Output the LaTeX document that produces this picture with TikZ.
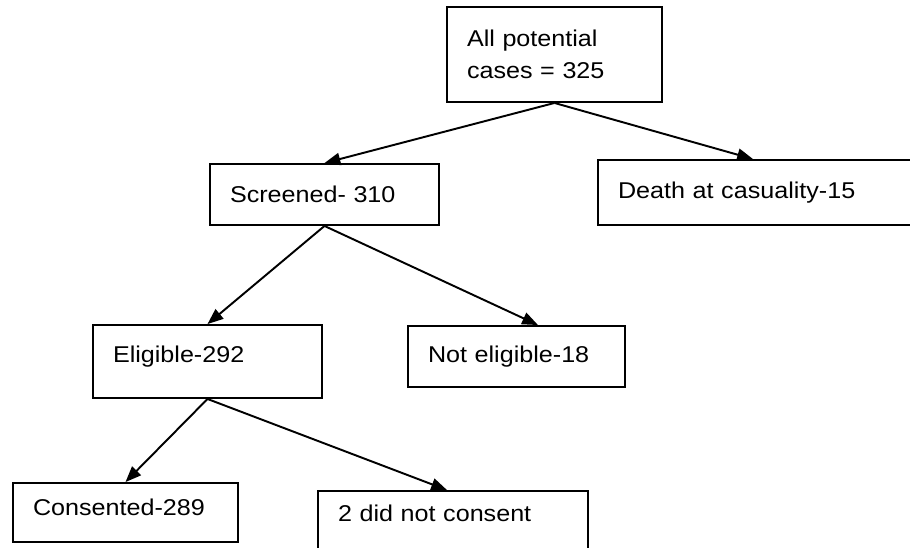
\documentclass[tikz,border=0pt]{standalone}
\usepackage{fontspec}
\setmainfont[FakeStretch=1.1]{Liberation Sans}
\usepackage{xcolor}
\usepackage{tikz}
\usetikzlibrary{calc,arrows.meta,positioning}
\definecolor{ink}{HTML}{000000}
\tikzset{
  box/.style={draw=ink, line width=1.1pt, rectangle, align=left, inner xsep=0.4cm,
    font=\fontsize{13}{18}\selectfont, text=ink},
  flow/.style={draw=ink, line width=1.1pt, -{Triangle[length=9pt,width=7pt]}},
}
\begin{document}
\begin{tikzpicture}[x=0.02cm, y=-0.02cm]
\useasboundingbox (0,0) rectangle (910,548);
\clip (0,0) rectangle (910,548);

% boxes
\node[box, text width=3.5cm, minimum height=1.9cm] (all) at (554.5,54.5) {All potential\\cases = 325};
\node[box, text width=3.78cm, minimum height=1.22cm] (scr) at (324.5,194.5) {Screened- 310};
\node[box, text width=5.84cm, minimum height=1.30cm] (death) at (764,192.5) {Death at casuality-15};
\node[box, text width=3.78cm, minimum height=1.46cm, text depth=0.3cm] (eli) at (207.5,361.5) {Eligible-292};
\node[box, text width=3.54cm, minimum height=1.22cm] (noteli) at (516.5,356.5) {Not eligible-18};
\node[box, text width=3.70cm, minimum height=1.18cm, text depth=0.2cm] (cons) at (125.5,512.5) {Consented-289};
\node[box, text width=4.60cm, minimum height=1.58cm, text depth=0.7cm] (notcons) at (453,530.5) {2 did not consent};

% arrows
\draw[flow] (all.south) -- (scr.north);
\draw[flow] (all.south) -- ([xshift=-0.22cm]death.north);
\draw[flow] (scr.south) -- (eli.north);
\draw[flow] (scr.south) -- ([xshift=0.43cm]noteli.north);
\draw[flow] (eli.south) -- (cons.north);
\draw[flow] (eli.south) -- ([xshift=-0.12cm]notcons.north);
\end{tikzpicture}
\end{document}
